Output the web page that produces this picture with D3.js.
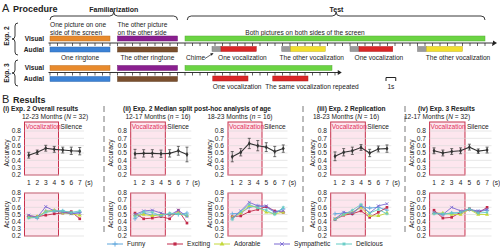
<!DOCTYPE html>
<html lang="en">
<head>
<meta charset="UTF-8">
<title>Procedure and results</title>
<script src="https://cdn.jsdelivr.net/npm/d3@7"></script>
<style>
  body{margin:0;background:#fff;}
  svg{font-family:"Liberation Sans",Arial,sans-serif;fill:#222;}
  .grid{stroke:#d6d6d6;stroke-width:0.6px;}
  .box{fill:#fde6ee;stroke:#c8324e;stroke-width:1px;}
  .mean{fill:none;stroke:#333;stroke-width:1.1px;}
  .err{stroke:#333;stroke-width:0.7px;}
  .ser{fill:none;stroke-width:0.9px;}
  .axisline{stroke:#333;stroke-width:1px;fill:none;}
  .brace{fill:none;stroke:#222;stroke-width:0.9px;}
</style>
</head>
<body>
<script>
// ---------- data ----------
// procedure timeline, seconds from start of familiarization
const famSpans = [[0, 8], [9, 17]];
const testSpans = [[18, 58], [18, 37.6]];          // Exp. 2, Exp. 3 visual
const axisEnds = [59.6, 38.9];
const exp2Sounds = [
  {kind: 'chime', t0: 21.6, t1: 22.8}, {kind: 'one', t0: 22.8, t1: 27.5},
  {kind: 'chime', t0: 30.9, t1: 32.1}, {kind: 'other', t0: 32.1, t1: 36.7},
  {kind: 'chime', t0: 40.0, t1: 41.2}, {kind: 'one', t0: 41.2, t1: 45.7},
  {kind: 'chime', t0: 49.0, t1: 50.2}, {kind: 'other', t0: 50.2, t1: 55.0}
];
const exp3Sounds = [{kind: 'one', t0: 21.7, t1: 26.4}, {kind: 'one', t0: 29.7, t1: 34.4}];

// results
const seconds = [1, 2, 3, 4, 5, 6, 7];
const yTicks = [0.2, 0.3, 0.4, 0.5, 0.6, 0.7, 0.8];
const panelTitles = ['(i) Exp. 2 Overall results', '(ii) Exp. 2 Median split post-hoc analysis of age',
  '(iii) Exp. 2 Replication', '(iv) Exp. 3 Results'];
const groupAges = ['12-23', '12-17', '18-23', '18-23', '12-17'];
const groupN = [['N', 32], ['n', 16], ['n', 16], ['N', 16], ['N', 32]];
const meanAcc = [
  [0.47, 0.51, 0.565, 0.55, 0.54, 0.53, 0.525],
  [0.49, 0.495, 0.495, 0.49, 0.495, 0.53, 0.48],
  [0.45, 0.51, 0.63, 0.60, 0.58, 0.52, 0.56],
  [0.455, 0.51, 0.53, 0.575, 0.50, 0.555, 0.56],
  [0.53, 0.50, 0.52, 0.53, 0.58, 0.525, 0.54]
];
const errAcc = [
  [0.04, 0.03, 0.04, 0.04, 0.04, 0.05, 0.05],
  [0.06, 0.05, 0.05, 0.05, 0.05, 0.06, 0.10],
  [0.07, 0.05, 0.07, 0.07, 0.06, 0.07, 0.05],
  [0.06, 0.05, 0.05, 0.04, 0.05, 0.04, 0.05],
  [0.04, 0.04, 0.04, 0.04, 0.04, 0.03, 0.04]
];
const categories = ['Funny', 'Exciting', 'Adorable', 'Sympathetic', 'Delicious'];
const funny = [
  [0.47, 0.45, 0.55, 0.55, 0.55, 0.52, 0.53],
  [0.44, 0.52, 0.49, 0.50, 0.50, 0.50, 0.52],
  [0.51, 0.52, 0.60, 0.62, 0.60, 0.53, 0.58],
  [0.51, 0.52, 0.51, 0.61, 0.59, 0.60, 0.56],
  [0.52, 0.50, 0.52, 0.52, 0.57, 0.54, 0.56]
];
const exciting = [
  [0.48, 0.47, 0.49, 0.51, 0.52, 0.54, 0.44],
  [0.52, 0.44, 0.45, 0.47, 0.44, 0.56, 0.38],
  [0.47, 0.48, 0.54, 0.57, 0.61, 0.55, 0.53],
  [0.43, 0.49, 0.51, 0.55, 0.46, 0.53, 0.60],
  [0.56, 0.45, 0.46, 0.53, 0.58, 0.52, 0.60]
];
const adorable = [
  [0.46, 0.47, 0.54, 0.56, 0.52, 0.51, 0.49],
  [0.49, 0.50, 0.48, 0.50, 0.50, 0.52, 0.48],
  [0.46, 0.52, 0.62, 0.60, 0.53, 0.51, 0.53],
  [0.44, 0.50, 0.53, 0.60, 0.48, 0.48, 0.52],
  [0.52, 0.52, 0.50, 0.50, 0.57, 0.50, 0.50]
];
const sympathetic = [
  [0.49, 0.46, 0.61, 0.55, 0.53, 0.51, 0.52],
  [0.50, 0.55, 0.56, 0.52, 0.49, 0.56, 0.47],
  [0.45, 0.55, 0.67, 0.62, 0.62, 0.54, 0.55],
  [0.44, 0.53, 0.52, 0.62, 0.52, 0.62, 0.65],
  [0.53, 0.50, 0.60, 0.55, 0.57, 0.55, 0.57]
];
const delicious = [
  [0.45, 0.46, 0.53, 0.55, 0.55, 0.53, 0.55],
  [0.47, 0.54, 0.53, 0.48, 0.52, 0.51, 0.49],
  [0.43, 0.54, 0.64, 0.59, 0.56, 0.50, 0.60],
  [0.43, 0.50, 0.56, 0.64, 0.52, 0.57, 0.51],
  [0.51, 0.51, 0.52, 0.53, 0.58, 0.52, 0.53]
];
const seriesData = [funny, exciting, adorable, sympathetic, delicious];

// ---------- styles ----------
const barColor = {fam1v: '#e88a2c', fam2v: '#8a1f8f', fam1a: '#3b82d6', fam2a: '#7a4f2e',
  test: '#6bd443', chime: '#9a9a9a', one: '#d92626', other: '#f2df2e'};
const catColor = ['#5fa6dc', '#c22a4a', '#c4d83a', '#7a68d2', '#63cbc4'];
const catSymbol = [d3.symbolPlus, d3.symbolSquare, d3.symbolTriangle, d3.symbolTimes, d3.symbolAsterisk];
const catFilled = [false, true, true, false, false];

const svg = d3.select('body').append('svg').attr('width', 500).attr('height', 249);

// ---------- A: procedure ----------
svg.append('text').attr('x', 2).attr('y', 12).attr('font-size', 11).text('A');
svg.append('text').attr('x', 13).attr('y', 12).attr('font-size', 9).attr('font-weight', 'bold').text('Procedure');

const tx = d3.scaleLinear().domain([0, 60]).range([50, 500]);

function hBrace(x0, x1, y, h){
  const m = (x0 + x1) / 2;
  return `M${x0},${y + h} Q${x0},${y} ${x0 + h},${y} L${m - h},${y} Q${m},${y} ${m},${y - h}` +
    ` Q${m},${y} ${m + h},${y} L${x1 - h},${y} Q${x1},${y} ${x1},${y + h}`;
}
function vBrace(x, y0, y1, w){
  const m = (y0 + y1) / 2;
  return `M${x + w},${y0} Q${x},${y0} ${x},${y0 + w} L${x},${m - w} Q${x},${m} ${x - w},${m}` +
    ` Q${x},${m} ${x},${m + w} L${x},${y1 - w} Q${x},${y1} ${x + w},${y1}`;
}
svg.append('path').attr('class', 'brace').attr('d', hBrace(tx(0), tx(17), 16, 4));
svg.append('path').attr('class', 'brace').attr('d', hBrace(tx(18.3), tx(58), 16, 4));
svg.append('text').attr('x', tx(8.5)).attr('y', 12).attr('font-size', 7).attr('font-weight', 'bold')
  .attr('text-anchor', 'middle').text('Familiarization');
svg.append('text').attr('x', tx(38.2)).attr('y', 12).attr('font-size', 7).attr('font-weight', 'bold')
  .attr('text-anchor', 'middle').text('Test');

const small = 6.6;
function label(x, y, t, anchor, opts){
  const el = svg.append('text').attr('x', x).attr('y', y).attr('font-size', small)
    .attr('text-anchor', anchor || 'start').text(t);
  if(opts && opts.bold) el.attr('font-weight', 'bold');
  return el;
}
label(tx(0), 27, 'One picture on one');
label(tx(0), 35, 'side of the screen');
label(tx(9), 27, 'The other picture');
label(tx(9), 35, 'on the other side');
label(tx(34), 35, 'Both pictures on both sides of the screen', 'middle');

// rows: exp 2 and exp 3
const rows = [
  {visY: 36, axY: 43, audY: 47, sounds: exp2Sounds, test: testSpans[0], end: axisEnds[0]},
  {visY: 65.5, axY: 72.5, audY: 76.5, sounds: exp3Sounds, test: testSpans[1], end: axisEnds[1]}
];
const bh = 5;
rows.forEach(function(r){
  label(44, r.visY + 4.5, 'Visual', 'end', {bold: true});
  label(44, r.audY + 4.5, 'Audial', 'end', {bold: true});
  const vis = [{t0: famSpans[0][0], t1: famSpans[0][1], c: barColor.fam1v},
    {t0: famSpans[1][0], t1: famSpans[1][1], c: barColor.fam2v},
    {t0: r.test[0], t1: r.test[1], c: barColor.test}];
  const aud = [{t0: famSpans[0][0], t1: famSpans[0][1], c: barColor.fam1a},
    {t0: famSpans[1][0], t1: famSpans[1][1], c: barColor.fam2a}]
    .concat(r.sounds.map(d => ({t0: d.t0, t1: d.t1, c: barColor[d.kind], s: true})));
  svg.append('g').selectAll('rect').data(vis).enter().append('rect')
    .attr('x', d => tx(d.t0)).attr('width', d => tx(d.t1) - tx(d.t0))
    .attr('y', r.visY).attr('height', bh).attr('fill', d => d.c)
    .attr('stroke', d => d3.color(d.c).darker(0.6)).attr('stroke-width', 0.5);
  svg.append('g').selectAll('rect').data(aud).enter().append('rect')
    .attr('x', d => tx(d.t0)).attr('width', d => tx(d.t1) - tx(d.t0))
    .attr('y', d => d.s ? r.audY - 0.5 : r.audY)
    .attr('height', bh).attr('fill', d => d.c)
    .attr('stroke', d => d3.color(d.c).darker(0.6)).attr('stroke-width', 0.5);
  // time axis, one tick per second
  svg.append('line').attr('class', 'axisline').attr('x1', tx(-0.2)).attr('x2', tx(r.end) - 3)
    .attr('y1', r.axY).attr('y2', r.axY);
  svg.append('path').attr('d', `M${tx(r.end)},${r.axY} l-4,-2.5 l0,5 z`).attr('fill', '#222');
  svg.append('g').selectAll('line').data(d3.range(0, Math.floor(r.end) + 1)).enter().append('line')
    .attr('x1', d => tx(d)).attr('x2', d => tx(d)).attr('y1', r.axY).attr('y2', r.axY + 3)
    .attr('stroke', '#222').attr('stroke-width', 0.7);
});
label(tx(4), 60, 'One ringtone', 'middle');
label(tx(13), 60, 'The other ringtone', 'middle');
// Exp. 2 sound captions
label(186, 60, 'Chime');
svg.append('path').attr('d', 'M205,58.5 L212,54').attr('stroke', '#222').attr('stroke-width', 0.7);
svg.append('path').attr('d', 'M213.5,53 l-3.4,0.6 l1.6,2.2 z').attr('fill', '#222');
label(tx(22.4), 60, 'One vocalization');
label(tx(30.6), 60, 'The other vocalization');
label(tx(40.6), 60, 'One vocalization');
label(tx(50.1), 60, 'The other vocalization');
label(tx(21.7), 89, 'One vocalization');
label(tx(28.7), 89, 'The same vocalization repeated');
// 1 s scale
svg.append('path').attr('d', `M${tx(44.8)},81 L${tx(44.8)},77.5 L${tx(46.1)},77.5 L${tx(46.1)},81`)
  .attr('fill', 'none').attr('stroke', '#222').attr('stroke-width', 1);
label(tx(45.45), 89, '1s', 'middle');
// experiment braces
svg.append('path').attr('class', 'brace').attr('d', vBrace(15, 23, 55, 3));
svg.append('path').attr('class', 'brace').attr('d', vBrace(15, 60, 86, 3));
svg.append('text').attr('transform', 'translate(8.5,36) rotate(-90)').attr('text-anchor', 'middle')
  .attr('font-size', small).attr('font-weight', 'bold').text('Exp. 2');
svg.append('text').attr('transform', 'translate(8.5,73) rotate(-90)').attr('text-anchor', 'middle')
  .attr('font-size', small).attr('font-weight', 'bold').text('Exp. 3');

// ---------- B: results ----------
svg.append('text').attr('x', 2).attr('y', 103).attr('font-size', 11).text('B');
svg.append('text').attr('x', 13).attr('y', 103).attr('font-size', 9).attr('font-weight', 'bold').text('Results');
const titleX = [3, 123, 317, 418];
panelTitles.forEach((t, i) => label(titleX[i], 111, t, 'start', {bold: true}));
[104, 303, 405].forEach(function(x){
  svg.append('line').attr('x1', x).attr('x2', x).attr('y1', 106).attr('y2', 236)
    .attr('stroke', '#555').attr('stroke-width', 0.8).attr('stroke-dasharray', '6,4');
});

const panels = [
  {x0: 24.5, x1: 84, lab: 21, acc: 9, sub: 55},
  {x0: 130.7, x1: 191.3, lab: 127, acc: 113, sub: 158},
  {x0: 228, x1: 287.5, lab: 224, acc: 212, sub: 240},
  {x0: 330.7, x1: 391.3, lab: 327, acc: 315, sub: 346},
  {x0: 429.6, x1: 491.5, lab: 426, acc: 414, sub: 437}
];
const topY = [131, 175], botY = [193, 236];

panels.forEach(function(p, i){
  const x = d3.scaleLinear().domain([0.5, 7.5]).range([p.x0, p.x1]);
  const st = svg.append('text').attr('x', p.sub).attr('y', 119).attr('font-size', small)
    .attr('text-anchor', 'middle');
  st.append('tspan').text(groupAges[i] + ' Months (');
  st.append('tspan').attr('font-style', 'italic').text(groupN[i][0]);
  st.append('tspan').text(' = ' + groupN[i][1] + ')');

  [topY, botY].forEach(function(yr, k){
    const y = d3.scaleLinear().domain([0.2, 0.8]).range([yr[1], yr[0]]);
    const g = svg.append('g');
    const boxTop = k === 0 ? yr[0] - 9 : yr[0];
    g.append('rect').attr('class', 'box').attr('x', x(0.5)).attr('y', boxTop)
      .attr('width', x(4.5) - x(0.5)).attr('height', y(0.2) - boxTop);
    g.selectAll('line.grid').data(yTicks).enter().append('line').attr('class', 'grid')
      .attr('x1', x(0.5)).attr('x2', x(7.5)).attr('y1', d => y(d)).attr('y2', d => y(d));
    g.selectAll('text.tick').data(yTicks).enter().append('text').attr('class', 'tick')
      .attr('x', p.lab).attr('y', d => y(d) + 2.3).attr('font-size', small)
      .attr('text-anchor', 'end').text(d3.format('.1f'));
    g.append('text').attr('transform', `translate(${p.acc},${(yr[0] + yr[1]) / 2}) rotate(-90)`)
      .attr('text-anchor', 'middle').attr('font-size', small).text('Accuracy');

    if(k === 0){
      g.append('text').attr('x', x(0.5) + 1).attr('y', boxTop + 6.5).attr('font-size', small)
        .attr('fill', '#e0345c').text('Vocalization');
      g.append('text').attr('x', x(4.5) + 2).attr('y', boxTop + 6.5).attr('font-size', small)
        .text('Silence');
      g.selectAll('text.xt').data(seconds).enter().append('text').attr('class', 'xt')
        .attr('x', d => x(d)).attr('y', yr[1] + 10).attr('font-size', small)
        .attr('text-anchor', 'middle').text(d => d);
      g.append('text').attr('x', x(7.5) + 1).attr('y', yr[1] + 10).attr('font-size', small).text('(s)');
      const pts = seconds.map((s, j) => ({s: s, v: meanAcc[i][j], e: errAcc[i][j]}));
      g.append('path').attr('class', 'mean')
        .attr('d', d3.line().x(d => x(d.s)).y(d => y(d.v))(pts));
      const eb = g.selectAll('g.eb').data(pts).enter().append('g').attr('class', 'eb');
      eb.append('line').attr('class', 'err').attr('x1', d => x(d.s)).attr('x2', d => x(d.s))
        .attr('y1', d => y(d.v - d.e)).attr('y2', d => y(d.v + d.e));
      [-1, 1].forEach(sg => eb.append('line').attr('class', 'err')
        .attr('x1', d => x(d.s) - 1.5).attr('x2', d => x(d.s) + 1.5)
        .attr('y1', d => y(d.v + sg * d.e)).attr('y2', d => y(d.v + sg * d.e)));
      eb.append('path').attr('transform', d => `translate(${x(d.s)},${y(d.v)})`)
        .attr('d', d3.symbol(d3.symbolDiamond, 7)()).attr('fill', '#333');
    } else {
      seriesData.forEach(function(sd, c){
        const pts = seconds.map((s, j) => ({s: s, v: sd[i][j]}));
        g.append('path').attr('class', 'ser').attr('stroke', catColor[c])
          .attr('d', d3.line().x(d => x(d.s)).y(d => y(d.v))(pts));
        g.selectAll('path.m' + c).data(pts).enter().append('path').attr('class', 'm' + c)
          .attr('transform', d => `translate(${x(d.s)},${y(d.v)})`)
          .attr('d', d3.symbol(catSymbol[c], 7)())
          .attr('fill', catFilled[c] ? catColor[c] : 'none')
          .attr('stroke', catColor[c]).attr('stroke-width', catFilled[c] ? 0 : 0.8);
      });
    }
  });
});

// legend
const legX = [107, 167, 214, 274, 336];
categories.forEach(function(c, k){
  const g = svg.append('g').attr('transform', `translate(${legX[k]},244)`);
  g.append('line').attr('x1', 0).attr('x2', 16).attr('stroke', catColor[k]).attr('stroke-width', 1);
  g.append('path').attr('transform', 'translate(8,0)').attr('d', d3.symbol(catSymbol[k], 10)())
    .attr('fill', catFilled[k] ? catColor[k] : 'none').attr('stroke', catColor[k])
    .attr('stroke-width', catFilled[k] ? 0 : 0.9);
  g.append('text').attr('x', 20).attr('y', 2.4).attr('font-size', small).text(c);
});
</script>
</body>
</html>
